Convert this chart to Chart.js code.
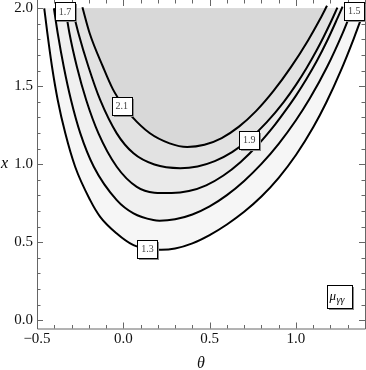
<!DOCTYPE html>
<html>
<head>
<meta charset="utf-8">
<script src="https://cdn.jsdelivr.net/npm/chart.js@4.4.1/dist/chart.umd.min.js"></script>
<style>
  html, body { margin: 0; padding: 0; background: #fff; }
  #wrap { width: 366px; height: 370px; }
</style>
</head>
<body>
<div id="wrap"><canvas id="chart" width="366" height="370"></canvas></div>
<script>
// contour levels and the shade above each one
const levels = [1.3, 1.5, 1.7, 1.9, 2.1]
const bandColors = ['#f6f6f6', '#f0f0f0', '#eaeaea', '#e2e2e2', '#d8d8d8']

// contour lines (theta, x)
const theta13 = [-0.458, -0.440, -0.413, -0.380, -0.336, -0.279, -0.192, -0.134, -0.038, 0.059, 0.14, 0.22, 0.30, 0.40, 0.50, 0.60, 0.70, 0.80, 0.90, 1.00, 1.10, 1.175, 1.26, 1.335, 1.40]
const x13 = [2.0, 1.840, 1.625, 1.412, 1.198, 0.984, 0.770, 0.663, 0.556, 0.481, 0.457, 0.452, 0.460, 0.493, 0.546, 0.614, 0.695, 0.793, 0.913, 1.059, 1.237, 1.394, 1.600, 1.806, 2.0]

const theta15 = [-0.402, -0.380, -0.345, -0.303, -0.249, -0.171, -0.038, 0.059, 0.174, 0.21, 0.30, 0.40, 0.50, 0.60, 0.70, 0.80, 0.90, 1.00, 1.08, 1.18, 1.27, 1.33]
const x15 = [2.0, 1.840, 1.625, 1.412, 1.198, 0.984, 0.770, 0.685, 0.642, 0.638, 0.647, 0.678, 0.730, 0.802, 0.893, 1.002, 1.131, 1.282, 1.421, 1.623, 1.839, 2.004]

const theta17 = [-0.336, -0.312, -0.269, -0.215, -0.144, -0.038, 0.078, 0.18, 0.28, 0.38, 0.48, 0.58, 0.68, 0.78, 0.88, 0.94, 1.00, 1.06, 1.12, 1.18, 1.24, 1.27]
const x17 = [2.0, 1.840, 1.625, 1.412, 1.198, 0.984, 0.855, 0.818, 0.815, 0.828, 0.865, 0.928, 1.015, 1.125, 1.256, 1.345, 1.440, 1.545, 1.660, 1.790, 1.935, 2.010]

const theta19 = [-0.296, -0.260, -0.202, -0.134, -0.038, 0.059, 0.18, 0.33, 0.43, 0.53, 0.63, 0.73, 0.83, 0.93, 1.00, 1.06, 1.12, 1.16, 1.20, 1.24]
const x19 = [2.0, 1.840, 1.625, 1.412, 1.198, 1.070, 0.998, 0.975, 0.986, 1.020, 1.078, 1.160, 1.268, 1.400, 1.509, 1.614, 1.731, 1.816, 1.907, 2.004]

const theta21 = [-0.237, -0.195, -0.118, -0.06, 0.0, 0.046, 0.152, 0.268, 0.37, 0.47, 0.57, 0.67, 0.77, 0.87, 0.97, 1.07, 1.14, 1.18]
const x21 = [2.006, 1.840, 1.625, 1.480, 1.375, 1.310, 1.200, 1.134, 1.111, 1.125, 1.168, 1.241, 1.342, 1.470, 1.621, 1.794, 1.931, 2.016]

const contourTheta = [theta13, theta15, theta17, theta19, theta21]
const contourX = [x13, x15, x17, x19, x21]

// where the level labels sit
const labelTheta = [0.14, 1.338, -0.338, 0.729, -0.009]
const labelX = [0.457, 1.983, 1.98, 1.158, 1.376]

const thetaTicks = [-0.5, 0.0, 0.5, 1.0]
const xTicks = [0.0, 0.5, 1.0, 1.5, 2.0]

const serif = "'Liberation Serif', 'Times New Roman', serif"

function fmt(v) {
  return v.toFixed(1).replace('-', '\u2212')
}

function minorList(from, to) {
  let out = []
  for (let i = Math.round(from * 10); i <= Math.round(to * 10); i++) out.push(i / 10)
  return out
}

const datasets = levels.map((lv, i) => ({
  label: String(lv),
  data: contourTheta[i].map((t, j) => ({x: t, y: contourX[i][j]})),
  borderColor: '#000',
  borderWidth: 2,
  pointRadius: 0,
  cubicInterpolationMode: 'monotone',
  fill: {value: 2.0},
  backgroundColor: bandColors[i],
  order: levels.length - i,
}))

const framePlugin = {
  id: 'frame',
  afterDatasetsDraw(chart) {
    const {ctx, chartArea: a, scales: {x, y}} = chart
    ctx.save()
    ctx.strokeStyle = '#666'
    ctx.lineWidth = 1
    ctx.beginPath()
    ctx.moveTo(a.left + 0.5, a.top - 1)
    ctx.lineTo(a.left + 0.5, a.bottom + 0.5)
    ctx.lineTo(a.right + 0.5, a.bottom + 0.5)
    ctx.lineTo(a.right + 0.5, a.top - 1)
    ctx.stroke()

    ctx.beginPath()
    minorList(-0.5, 1.4).forEach(v => {
      const major = thetaTicks.some(t => Math.abs(t - v) < 1e-6)
      const len = major ? 6 : 3.5
      const px = Math.round(x.getPixelForValue(v)) + 0.5
      ctx.moveTo(px, a.bottom)
      ctx.lineTo(px, a.bottom - len)
      ctx.moveTo(px, a.top)
      ctx.lineTo(px, a.top + len)
    })
    minorList(0, 2.0).forEach(v => {
      const major = xTicks.some(t => Math.abs(t - v) < 1e-6)
      const len = major ? 6 : 3.5
      const py = Math.round(y.getPixelForValue(v)) + 0.5
      ctx.moveTo(a.left, py)
      ctx.lineTo(a.left + len, py)
      ctx.moveTo(a.right, py)
      ctx.lineTo(a.right - len, py)
    })
    ctx.stroke()

    // contour level labels
    ctx.textAlign = 'center'
    ctx.textBaseline = 'middle'
    ctx.font = '10px ' + serif
    levels.forEach((lv, i) => {
      const cx = x.getPixelForValue(labelTheta[i])
      const cy = y.getPixelForValue(labelX[i])
      drawBox(ctx, cx, cy, 20, 18)
      ctx.fillStyle = '#444'
      ctx.fillText(lv.toFixed(1), cx, cy + 0.5)
    })

    // legend tag in the lower right corner
    const lx = a.right - 26, ly = a.bottom - 32
    drawBox(ctx, lx, ly, 25, 23)
    ctx.fillStyle = '#000'
    ctx.textAlign = 'left'
    ctx.textBaseline = 'alphabetic'
    ctx.font = 'italic 13px ' + serif
    ctx.fillText('\u03bc', lx - 9.5, ly + 3)
    ctx.font = 'italic 10px ' + serif
    ctx.fillText('\u03b3\u03b3', lx - 2.5, ly + 6)

    // vertical axis name, written upright
    ctx.font = 'italic 16px ' + serif
    ctx.fillText('x', 1, y.getPixelForValue(1.0) + 4)
    ctx.restore()
  }
}

function drawBox(ctx, cx, cy, w, h) {
  const l = Math.round(cx - w / 2) + 0.5
  const t = Math.round(cy - h / 2) + 0.5
  ctx.fillStyle = '#8a8a8a'
  ctx.fillRect(l + 1.5, t + 1.5, w, h)
  ctx.fillStyle = '#fff'
  ctx.fillRect(l, t, w, h)
  ctx.strokeStyle = '#000'
  ctx.lineWidth = 1
  ctx.strokeRect(l, t, w, h)
}

new Chart(document.getElementById('chart'), {
  type: 'line',
  data: {datasets: datasets},
  options: {
    responsive: false,
    animation: false,
    events: [],
    layout: {padding: {top: 0, right: 1, bottom: 0, left: 0}},
    plugins: {legend: {display: false}, tooltip: {enabled: false}},
    scales: {
      x: {
        type: 'linear',
        min: -0.5,
        max: 1.4,
        grid: {display: false, drawTicks: false},
        border: {display: false},
        ticks: {font: {family: serif, size: 15}, color: '#111', padding: 2, callback: v => fmt(v)},
        afterBuildTicks: s => { s.ticks = thetaTicks.map(v => ({value: v})) },
        afterFit: s => { s.height = 41.5; s.paddingLeft = 0; s.paddingRight = 0 },
        title: {display: true, text: '\u03b8', font: {family: serif, size: 16, style: 'italic'}, color: '#111', padding: {top: 0, bottom: -3}},
      },
      y: {
        type: 'linear',
        min: -0.053,
        max: 2.053,
        grid: {display: false, drawTicks: false},
        border: {display: false},
        ticks: {font: {family: serif, size: 15}, color: '#111', padding: 4, callback: v => fmt(v)},
        afterBuildTicks: s => { s.ticks = xTicks.map(v => ({value: v})) },
        afterFit: s => { s.width = 37; s.paddingTop = 0; s.paddingBottom = 0 },
      },
    },
  },
  plugins: [framePlugin],
})
</script>
</body>
</html>
